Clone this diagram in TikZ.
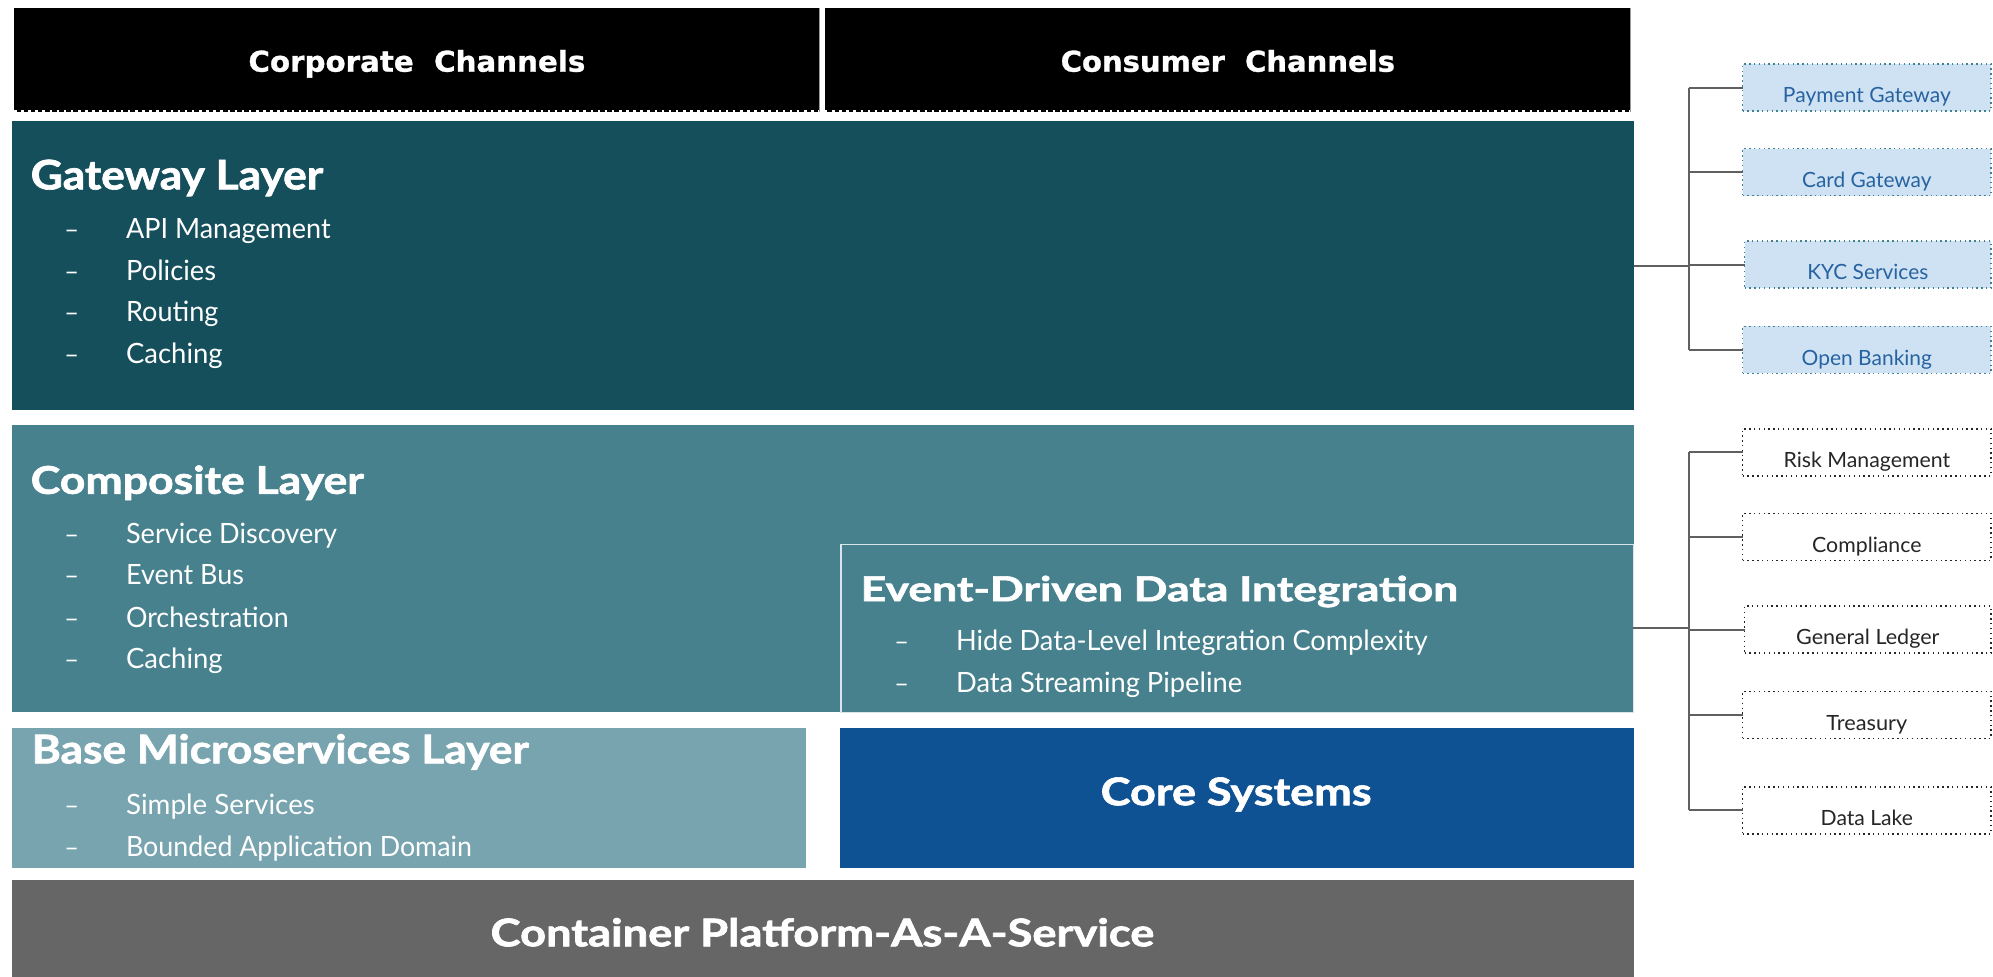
\documentclass[tikz,border=0pt]{standalone}
\usepackage{fontspec}
\usepackage{graphicx}
\setmainfont{Lato}
\newfontfamily\heavyfont{Lato}[BoldFeatures={FakeBold=1.6}]
\newfontfamily\chanfont{DejaVu Sans}[BoldFeatures={FakeBold=1}]
% set a text to a given width, keeping its height
\newcommand{\fw}[2]{\resizebox{#1pt}{\height}{#2}}

\definecolor{gwteal}{RGB}{22,79,92}
\definecolor{compteal}{RGB}{71,129,141}
\definecolor{baseteal}{RGB}{119,164,175}
\definecolor{coreblue}{RGB}{15,82,148}
\definecolor{contgray}{RGB}{102,102,102}
\definecolor{lightblue}{RGB}{207,226,243}
\definecolor{dotblue}{RGB}{62,128,148}
\definecolor{textblue}{RGB}{38,99,160}
\definecolor{connGray}{RGB}{96,96,96}
\definecolor{edgelight}{RGB}{215,230,233}

\begin{document}
\begin{tikzpicture}[x=1pt,y=-1pt,
  panel/.style={inner sep=0pt, outer sep=0pt, anchor=north west},
  chan/.style={panel, fill=black},
  ttl/.style={anchor=base west, inner sep=0pt, text=white, font=\heavyfont\bfseries\fontsize{31}{36}\selectfont},
  ctr/.style={anchor=base, inner sep=0pt, text=white, font=\heavyfont\bfseries\fontsize{30}{36}\selectfont},
  itm/.style={anchor=base west, inner sep=0pt, text=white, font=\fontsize{22}{26}\selectfont},
  bul/.style={anchor=base, inner sep=0pt, text=white, font=\fontsize{20}{24}\selectfont},
  chl/.style={anchor=base, inner sep=0pt, text=white, font=\chanfont\bfseries\fontsize{22.5}{26}\selectfont},
  rbox/.style={anchor=west, inner sep=0pt, outer sep=0pt, minimum width=195.5pt, minimum height=37pt,
    text height=24pt, text depth=0pt, font=\fontsize{16.5}{20}\selectfont,
    line width=1.3pt, dash pattern=on 1.1pt off 2.7pt},
  pbox/.style={rbox, fill=lightblue, draw=dotblue, text=textblue},
  wbox/.style={rbox, fill=white, draw=black!85, text=black!85},
  conn/.style={draw=connGray, line width=1.6pt}
]
\useasboundingbox (0,0) rectangle (1568,768);
\fill[white] (0,0) rectangle (1568,768);

% ---- channels ----
\node[chan, minimum width=634pt, minimum height=82.5pt] (corp) at (11,6) {};
\node[chan, minimum width=634pt, minimum height=82.5pt] (cons) at (649,6) {};
\foreach \c in {corp,cons}{
  \draw[white, line width=1.6pt, dash pattern=on 2pt off 3.6pt]
    ([yshift=1pt]\c.south west) -- ([yshift=1pt]\c.south east);
  \draw[black!40, line width=0.9pt] (\c.north east) -- (\c.south east);
}
\node[chl] (corpt) at (328,56.4) {\fw{265}{Corporate\ \ Channels}};
\node[chl] (const) at (966,56.4) {\fw{263}{Consumer\ \ Channels}};

% ---- layers ----
\node[panel, fill=gwteal, minimum width=1276pt, minimum height=227.2pt] (gw) at (9.5,95.3) {};
\node[panel, fill=compteal, minimum width=1276pt, minimum height=226.1pt] (comp) at (9.5,334.4) {};
\node[panel, fill=compteal, draw=edgelight, line width=1.1pt, minimum width=623.4pt, minimum height=132.1pt] (edi) at (661.6,428.4) {};
\node[panel, fill=baseteal, minimum width=624.5pt, minimum height=109.6pt] (base) at (9.5,573) {};
\node[panel, fill=coreblue, minimum width=624.5pt, minimum height=109.6pt] (core) at (661,573) {};
\node[panel, fill=contgray, minimum width=1276pt, minimum height=76pt] (cont) at (9.5,692.3) {};

% gateway layer
\node[ttl, font=\heavyfont\bfseries\fontsize{32}{36}\selectfont] (gwt) at (24,149) {\fw{230}{Gateway Layer}};
\foreach \t/\w/\y [count=\i] in {API Management/161/187.5, Policies/70.8/220.3, Routing/72.6/253.3, Caching/76/286}{
  \node[bul] (gwd\i) at (56.5,\y) {–};
  \node[itm] (gwi\i) at (99,\y) {\fw{\w}{\t}};
}

% composite layer
\node[ttl, font=\heavyfont\bfseries\fontsize{30}{36}\selectfont] (compt) at (24,388.5) {\fw{262}{Composite Layer}};
\foreach \t/\w/\y [count=\i] in {Service Discovery/166/427.5, Event Bus/92.8/460, Orchestration/128/493.5, Caching/76/526.3}{
  \node[bul] (cpd\i) at (56.5,\y) {–};
  \node[itm] (cpi\i) at (99,\y) {\fw{\w}{\t}};
}

% event-driven data integration
\node[ttl, font=\heavyfont\bfseries\fontsize{27}{32}\selectfont] (edit) at (677,473) {\fw{470}{Event-Driven Data Integration}};
\foreach \t/\w/\y [count=\i] in {Hide Data-Level Integration Complexity/371/512, Data Streaming Pipeline/225/545}{
  \node[bul] (edd\i) at (709.5,\y) {–};
  \node[itm] (edi\i) at (752,\y) {\fw{\w}{\t}};
}

% base microservices layer
\node[ttl] (baset) at (24.8,600.5) {\fw{391}{Base Microservices Layer}};
\foreach \t/\w/\y [count=\i] in {Simple Services/148.5/640.5, Bounded Application Domain/272/673.5}{
  \node[bul] (bsd\i) at (56.5,\y) {–};
  \node[itm] (bsi\i) at (99,\y) {\fw{\w}{\t}};
}

% core systems and platform
\node[ctr] (coret) at (972.5,633.5) {\fw{213}{Core Systems}};
\node[ctr] (contt) at (647,744.5) {\fw{522}{Container Platform-As-A-Service}};

% ---- external services ----
\coordinate (tr) at (1328.5,0);
\node[pbox] (pay)  at (1371,68.9)  {\fw{132}{Payment Gateway}};
\node[pbox] (card) at (1371,135.4) {\fw{101.8}{Card Gateway}};
\node[pbox, minimum width=194pt] (kyc) at (1372.5,208.2) {\fw{95.2}{KYC Services}};
\node[pbox] (ob)   at (1371,275.3) {\fw{102.5}{Open Banking}};

\node[wbox] (risk) at (1371,355.8) {\fw{131}{Risk Management}};
\node[wbox] (cmpl) at (1371,422.4) {\fw{86}{Compliance}};
\node[wbox, minimum width=194pt] (gl) at (1372.5,495.4) {\fw{112.8}{General Ledger}};
\node[wbox] (tre)  at (1371,562.4) {\fw{63.7}{Treasury}};
\node[wbox] (dl)   at (1371,637.5) {\fw{72.6}{Data Lake}};

% ---- connectors ----
\draw[conn] (gw.east) -- (gw.east -| tr);
\draw[conn] (tr |- pay.west) -- (tr |- ob.west);
\foreach \b in {pay,card,kyc,ob}{ \draw[conn] (tr |- \b.west) -- (\b.west); }

\draw[conn] (edi.east) -- (edi.east -| tr);
\draw[conn] (tr |- risk.west) -- (tr |- dl.west);
\foreach \b in {risk,cmpl,gl,tre,dl}{ \draw[conn] (tr |- \b.west) -- (\b.west); }
\end{tikzpicture}
\end{document}
